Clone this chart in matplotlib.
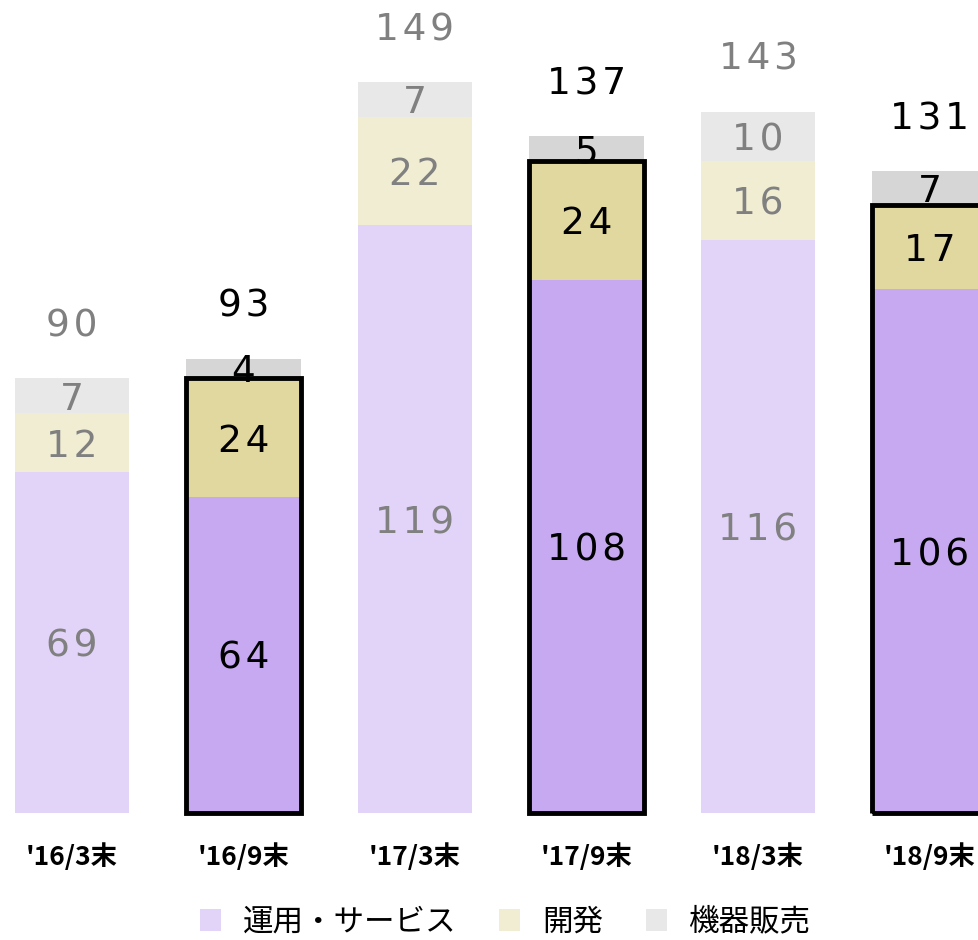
import numpy as np
import matplotlib.pyplot as plt
from matplotlib.patches import Patch

plt.rcParams['font.family'] = ['Noto Sans CJK JP', 'DejaVu Sans']

periods = ["'16/3末", "'16/9末", "'17/3末", "'17/9末", "'18/3末", "'18/9末"]
service = [69, 64, 119, 108, 116, 106]
develop = [12, 24, 22, 24, 16, 17]
devices = [7, 4, 7, 5, 10, 7]
totals = [90, 93, 149, 137, 143, 131]
highlight = [False, True, False, True, False, True]

series_names = ['運用・サービス', '開発', '機器販売']
light_cols = ['#E2D4F8', '#F0EDD3', '#E8E8E8']
dark_cols = ['#C7A9F1', '#E1D8A0', '#D6D6D6']


def spaced(n):
    # the numbers in the original are drawn with a little letter spacing
    return '\u200a'.join(str(n))


fig = plt.figure(figsize=(9.79, 9.4), dpi=100)
ax = fig.add_axes([0, 0.1351, 1, 0.8649])

x = np.arange(len(periods))
w = 0.67
series = [np.array(service), np.array(develop), np.array(devices)]

bottom = np.zeros(len(periods))
for vals, lc, dc in zip(series, light_cols, dark_cols):
    cols = [dc if h else lc for h in highlight]
    ax.bar(x, vals, w, bottom=bottom, color=cols, linewidth=0, zorder=1)
    for i in range(len(periods)):
        tc = 'black' if highlight[i] else '#808080'
        ax.text(x[i], bottom[i] + vals[i] / 2, spaced(vals[i]), ha='center',
                va='center_baseline', fontsize=27, color=tc, family='DejaVu Sans', zorder=2)
    bottom = bottom + vals

# totals above each bar
for i in range(len(periods)):
    tc = 'black' if highlight[i] else '#808080'
    ax.text(x[i], bottom[i] + 11.3, spaced(totals[i]), ha='center', va='center_baseline',
            fontsize=27, color=tc, family='DejaVu Sans', zorder=2)

# black outline around service + develop for September bars
hx = x[np.array(highlight)]
box_h = (series[0] + series[1])[np.array(highlight)]
ax.bar(hx, box_h, w, fill=False, edgecolor='black', linewidth=3.5, zorder=3, clip_on=False)

ax.set_xlim(-0.42, 5.289)
ax.set_ylim(0, 164.6)
for s in ax.spines.values():
    s.set_visible(False)
ax.set_yticks([])
ax.set_xticks(x)
ax.set_xticklabels(periods, fontsize=19, fontweight='bold')
ax.tick_params(axis='x', length=0, pad=22)

handles = [Patch(facecolor=c, edgecolor='none') for c in light_cols]
fig.legend(handles, series_names, loc='center', bbox_to_anchor=(0.516, 0.019), ncol=3,
           frameon=False, fontsize=22, handlelength=0.7, handleheight=0.7,
           handletextpad=0.7, columnspacing=1.4, borderpad=0.1)

fig.savefig('out.png', dpi=100)
